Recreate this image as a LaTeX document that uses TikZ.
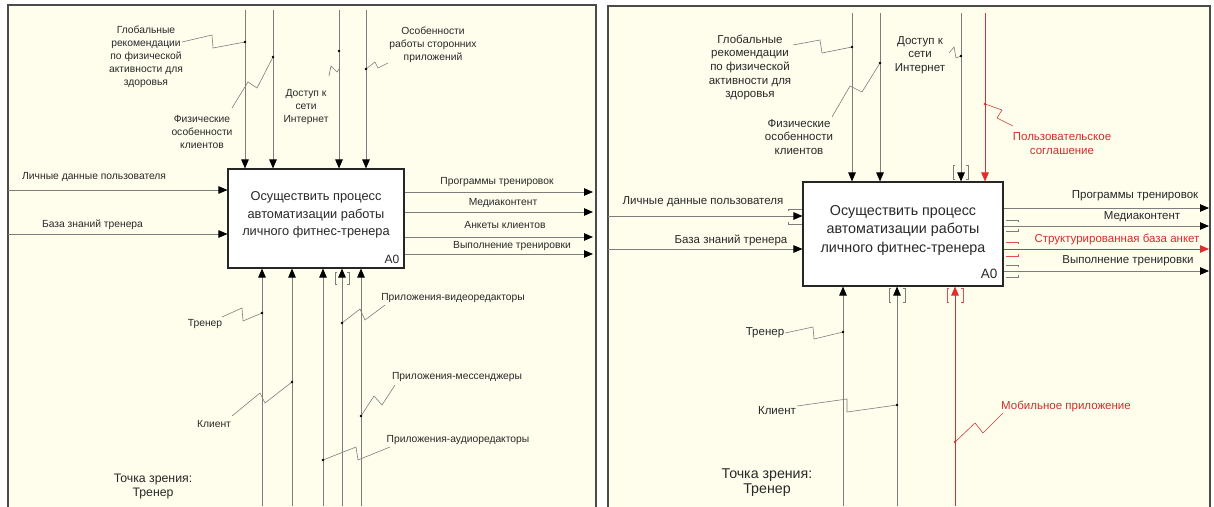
\documentclass[tikz,border=0pt]{standalone}
\usepackage{fontspec}
\setmainfont{Liberation Sans}
\usetikzlibrary{arrows.meta}

\definecolor{paper}{RGB}{255,254,237}
\definecolor{frame}{RGB}{75,75,75}
\definecolor{wire}{RGB}{125,125,125}
\definecolor{ink}{RGB}{40,40,40}
\definecolor{redw}{RGB}{225,45,45}
\definecolor{redt}{RGB}{210,45,45}

\tikzset{
  panel/.style={draw=frame, line width=1.5pt, fill=paper},
  procbox/.style={draw=black!85, line width=1.1pt, fill=white, inner sep=0pt},
  boxtextL/.style={font=\fontsize{12.8}{17.5}\selectfont, align=center, text=ink, inner sep=0pt},
  boxtextR/.style={font=\fontsize{14.3}{18.5}\selectfont, align=center, text=ink, inner sep=0pt},
  arr/.style={draw=wire, line width=0.9pt, -{Triangle[length=9pt,width=7.5pt,color=black]}},
  rarr/.style={draw=redw, line width=0.9pt, -{Triangle[length=9pt,width=7.5pt,color=redw]}},
  lead/.style={draw=wire, line width=0.6pt},
  rlead/.style={draw=redw!80!wire, line width=0.6pt},
  brk/.style={draw=wire, line width=0.6pt},
  rbrk/.style={draw=redw!85, line width=0.6pt},
  labL/.style={font=\fontsize{10.3}{13}\selectfont, align=center, text=ink, inner sep=0pt},
  labR/.style={font=\fontsize{11.5}{13.7}\selectfont, align=center, text=ink, inner sep=0pt},
  vpL/.style={font=\fontsize{12.3}{14}\selectfont, align=center, text=ink, inner sep=0pt},
  vpR/.style={font=\fontsize{14.2}{15}\selectfont, align=center, text=ink, inner sep=0pt},
}

\begin{document}
\begin{tikzpicture}[x=1pt,y=-1pt]
\useasboundingbox (0,0) rectangle (1214,506);

% sheets
\begin{scope}
  \clip (0,0) rectangle (1214,506);
  \fill[white] (0,0) rectangle (1214,506);
  \draw[panel] (8,5) rectangle (596,530);
  \draw[panel] (608,6) rectangle (1210,530);
\end{scope}

% ================= left diagram =================
\node[procbox, minimum width=176pt, minimum height=99pt] (A) at (316,218.5) {};
\node[boxtextL] (Atxt) at (316,215) {Осуществить процесс\\автоматизации работы\\личного фитнес-тренера};
\node[font=\fontsize{12}{14}\selectfont, text=ink, inner sep=0pt] (Aid) at (392,259) {A0};

% controls
\coordinate (lt1) at (245,10);
\coordinate (lt2) at (273,10);
\coordinate (lt3) at (339,10);
\coordinate (lt4) at (366,10);
\foreach \c in {lt1,lt2,lt3,lt4} \draw[arr] (\c) -- (\c |- A.north);

% inputs
\coordinate (li1) at (8,190);
\coordinate (li2) at (8,234);
\foreach \c in {li1,li2} \draw[arr] (\c) -- (\c -| A.west);

% outputs
\coordinate (lo1) at (593,192);
\coordinate (lo2) at (593,212);
\coordinate (lo3) at (593,237);
\coordinate (lo4) at (593,254);
\foreach \c in {lo1,lo2,lo3,lo4} \draw[arr] (\c -| A.east) -- (\c);

% mechanisms
\coordinate (lb1) at (262,506);
\coordinate (lb2) at (292,506);
\coordinate (lb3) at (323,506);
\coordinate (lb4) at (342,506);
\coordinate (lb5) at (361,506);
\foreach \c in {lb1,lb2,lb3,lb4,lb5} \draw[arr] (\c) -- (\c |- A.south);
% tunnel brackets
\draw[brk] (337,272) -- (335,272) -- (335,284) -- (337,284);
\draw[brk] (347,272) -- (349,272) -- (349,284) -- (347,284);

% labels and leaders, left
\node[labL] (lg) at (146,56.5) {Глобальные\\рекомендации\\по физической\\активности для\\здоровья};
\coordinate (dlg) at (245,42);
\draw[lead] (182,42) -- (212,35) -- (213,48) -- (dlg);

\node[labL] (lf) at (202,132) {Физические\\особенности\\клиентов};
\coordinate (dlf) at (273,57);
\draw[lead] (232,108) -- (248,82) -- (257,88) -- (dlf);

\node[labL] (ld) at (306,107.5) {Доступ к\\сети\\Интернет};
\coordinate (dld) at (339,51);
\draw[lead] (329,76) -- (331,66) -- (337,72) -- (339,69);

\node[labL] (lo) at (433,44.5) {Особенности\\работы сторонних\\приложений};
\coordinate (dlo) at (366,69);
\draw[lead] (388,63) -- (378,68) -- (375,62) -- (dlo);

\node[labL, anchor=west] (lin1) at (22,177) {Личные данные пользователя};
\node[labL] (lin2) at (92.5,225) {База знаний тренера};

\node[labL] (lout1) at (497,182) {Программы тренировок};
\node[labL] (lout2) at (503,203) {Медиаконтент};
\node[labL] (lout3) at (505,225) {Анкеты клиентов};
\node[labL] (lout4) at (512,246) {Выполнение тренировки};

\node[labL] (ltr) at (205,324) {Тренер};
\coordinate (dltr) at (262,313);
\draw[lead] (222,317) -- (242,308) -- (243,321) -- (dltr);

\node[labL] (lcl) at (214,424) {Клиент};
\coordinate (dlcl) at (292,382);
\draw[lead] (232,416) -- (260,393) -- (265,403) -- (dlcl);

\node[labL] (lvid) at (453,298) {Приложения-видеоредакторы};
\coordinate (dlvid) at (342,323);
\draw[lead] (385,305) -- (365,320) -- (360,309) -- (dlvid);

\node[labL] (lmes) at (457,377) {Приложения-мессенджеры};
\coordinate (dlmes) at (361,416);
\draw[lead] (395,385) -- (382,405) -- (374,396) -- (dlmes);

\node[labL] (laud) at (458,440) {Приложения-аудиоредакторы};
\coordinate (dlaud) at (323,460);
\draw[lead] (390,447) -- (358,460) -- (356,447) -- (dlaud);

\foreach \c in {dlg,dlf,dld,dlo,dltr,dlcl,dlvid,dlmes,dlaud} \fill[black] (\c) circle (1.3pt);

\node[vpL] (lvp) at (153,487) {Точка зрения:\\Тренер};

% ================= right diagram =================
\node[procbox, minimum width=200pt, minimum height=104pt] (B) at (903,234) {};
\node[boxtextR] (Btxt) at (903,230) {Осуществить процесс\\автоматизации работы\\личного фитнес-тренера};
\node[font=\fontsize{13.5}{15}\selectfont, text=ink, inner sep=0pt] (Bid) at (989,274) {A0};

% controls
\coordinate (rt1) at (852,13);
\coordinate (rt2) at (880,13);
\coordinate (rt3) at (961,13);
\coordinate (rt4) at (985,13);
\foreach \c in {rt1,rt2,rt3} \draw[arr] (\c) -- (\c |- B.north);
\draw[rarr] (rt4) -- (rt4 |- B.north);
\draw[brk] (955,165) -- (953,165) -- (953,179) -- (955,179);
\draw[brk] (966,165) -- (968,165) -- (968,179) -- (966,179);

% inputs
\coordinate (ri1) at (608,216);
\coordinate (ri2) at (608,249);
\foreach \c in {ri1,ri2} \draw[arr] (\c) -- (\c -| B.west);
\draw[brk] (788,211) -- (788,209) -- (802,209);
\draw[brk] (788,222) -- (788,224) -- (802,224);

% outputs
\coordinate (ro1) at (1209,208);
\coordinate (ro2) at (1209,226);
\coordinate (ro3) at (1209,249);
\coordinate (ro4) at (1209,271);
\foreach \c in {ro1,ro2,ro4} \draw[arr] (\c -| B.east) -- (\c);
\draw[rarr] (ro3 -| B.east) -- (ro3);
\draw[brk] (1006,220) -- (1018,220) -- (1018,222);
\draw[brk] (1006,231) -- (1018,231) -- (1018,229);
\draw[rbrk] (1006,242) -- (1018,242) -- (1018,244);
\draw[rbrk] (1006,256) -- (1018,256) -- (1018,254);
\draw[brk] (1006,265) -- (1018,265) -- (1018,267);
\draw[brk] (1006,277) -- (1018,277) -- (1018,275);

% mechanisms
\coordinate (rb1) at (843,506);
\coordinate (rb2) at (897,506);
\coordinate (rb3) at (955,506);
\foreach \c in {rb1,rb2} \draw[arr] (\c) -- (\c |- B.south);
\draw[rarr] (rb3) -- (rb3 |- B.south);
\draw[brk] (891,288) -- (889,288) -- (889,302) -- (891,302);
\draw[brk] (903,288) -- (905,288) -- (905,302) -- (903,302);
\draw[rbrk] (949,288) -- (947,288) -- (947,302) -- (949,302);
\draw[rbrk] (961,288) -- (963,288) -- (963,302) -- (961,302);

% labels and leaders, right
\node[labR] (rg) at (750,67.5) {Глобальные\\рекомендации\\по физической\\активности для\\здоровья};
\coordinate (drg) at (852,47);
\draw[lead] (793,45) -- (820,40) -- (822,53) -- (drg);

\node[labR] (rf) at (799,137) {Физические\\особенности\\клиентов};
\coordinate (drf) at (880,63);
\draw[lead] (832,117) -- (850,86) -- (862,92) -- (drf);

\node[labR] (rd) at (920,55) {Доступ к\\сети\\Интернет};
\coordinate (drd) at (961,56);
\draw[lead] (949,53) -- (954,47) -- (956,58) -- (drd);

\node[labR, text=redt] (rus) at (1062,143.5) {Пользовательское\\соглашение};
\coordinate (drus) at (985,104);
\draw[rlead] (1013,126) -- (997,118) -- (1002,110) -- (drus);

\node[labR] (rin1) at (703,202) {Личные данные пользователя};
\node[labR] (rin2) at (731,240) {База знаний тренера};

\node[labR] (rout1) at (1135,196) {Программы тренировок};
\node[labR] (rout2) at (1142,217) {Медиаконтент};
\node[labR, text=redt] (rout3) at (1117,239) {Структурированная база анкет};
\node[labR] (rout4) at (1128,261) {Выполнение тренировки};

\node[labR] (rtr) at (765,333) {Тренер};
\coordinate (drtr) at (843,332);
\draw[lead] (785,333) -- (813,327) -- (814,339) -- (drtr);

\node[labR] (rcl) at (777,411) {Клиент};
\coordinate (drcl) at (897,405);
\draw[lead] (797,406) -- (847,399) -- (847,412) -- (drcl);

\node[labR, text=redt] (rmob) at (1066,406) {Мобильное приложение};
\coordinate (drmob) at (955,442);
\draw[rlead] (1003,413) -- (983,433) -- (975,423) -- (drmob);

\foreach \c in {drg,drf,drd,drtr,drcl} \fill[black] (\c) circle (1.3pt);
\foreach \c in {drus,drmob} \fill[redw] (\c) circle (1.4pt);

\node[vpR] (rvp) at (767,482.5) {Точка зрения:\\Тренер};

\end{tikzpicture}
\end{document}
